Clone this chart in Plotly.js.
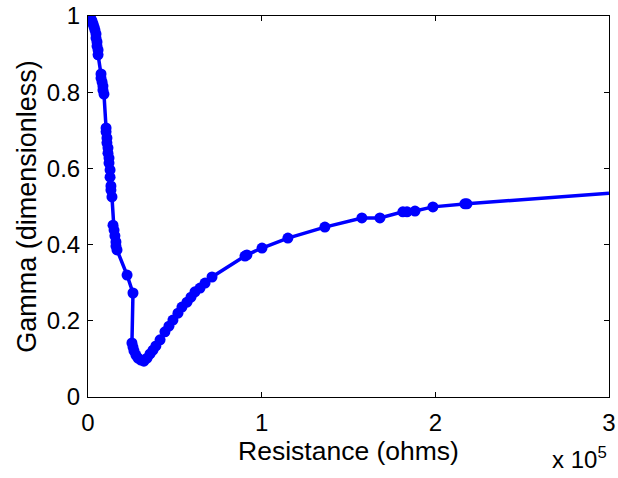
<!DOCTYPE html>
<html>
<head>
<meta charset="utf-8">
<script src="https://cdn.plot.ly/plotly-3.0.1.min.js"></script>
<style>html,body{margin:0;padding:0;background:#fff;}#chart{width:618px;height:478px;}</style>
</head>
<body>
<div id="chart"></div>
<script>
// Measured points (resistance in ohms, gamma dimensionless)
const resistance = [600,1200,1700,2300,2900,3500,4000,4600,4600,5200,5200,5800,5800,
  7500,7500,8100,8600,8600,9200,
  10400,10400,10900,10900,11500,11500,12100,12100,12700,12700,13200,13200,13800,
  14400,15000,15500,16100,16100,16700,
  22500,25900,25300,25900,26500,27600,28800,30500,32200,34000,35700,37400,39100,41500,
  44300,46600,48900,51800,54100,57000,59300,61600,64500,67400,71400,
  90400,91500,100200,115100,136400,157700,168100,181300,183700,188300,198600,217000,218200];
const gamma = [1.000,0.997,0.992,0.987,0.979,0.971,0.963,0.953,0.942,0.932,0.921,0.911,0.898,
  0.848,0.837,0.827,0.816,0.806,0.795,
  0.706,0.696,0.680,0.667,0.654,0.640,0.627,0.614,0.596,0.577,0.554,0.543,0.525,
  0.451,0.438,0.423,0.407,0.396,0.386,
  0.320,0.273,0.142,0.131,0.121,0.110,0.102,0.097,0.094,0.102,0.113,0.123,0.134,0.150,
  0.171,0.186,0.202,0.220,0.236,0.249,0.262,0.276,0.286,0.299,0.315,
  0.370,0.373,0.391,0.417,0.446,0.470,0.470,0.486,0.486,0.488,0.499,0.507,0.507];
// Line continues past the last measured point to the edge of the axes
const tailResistance = [218200, 300000];
const tailGamma = [0.507, 0.535];

const xTickVals = [0, 100000, 200000, 300000];
const xTickText = ['0', '1', '2', '3'];
const yTickVals = [0, 0.2, 0.4, 0.6, 0.8, 1];
const yTickText = ['0', '0.2', '0.4', '0.6', '0.8', '1'];

const blue = '#0000ff';
const fam = 'Liberation Sans, Arial, sans-serif';
const tickFont = {family: fam, size: 24, color: '#000'};
const xTitleFont = {family: fam, size: 26.5, color: '#000'};
const yTitleFont = {family: fam, size: 27, color: '#000'};
const expFont = {family: fam, size: 24, color: '#000'};

const traces = [
  {x: tailResistance, y: tailGamma, mode: 'lines', line: {color: blue, width: 3.5}, hoverinfo: 'skip'},
  {x: resistance, y: gamma, mode: 'lines+markers', line: {color: blue, width: 3.5},
   marker: {color: blue, size: 11, line: {width: 0}}}
];

const axisBase = {showline: true, linecolor: '#000', linewidth: 1, mirror: 'ticks',
  ticks: 'inside', ticklen: 5, tickcolor: '#000', showgrid: false, zeroline: false,
  tickfont: tickFont, tickmode: 'array', automargin: false};

const layout = {
  width: 618, height: 478,
  margin: {l: 88, r: 9, t: 16, b: 81},
  paper_bgcolor: '#fff', plot_bgcolor: '#fff',
  showlegend: false, font: tickFont,
  xaxis: Object.assign({}, axisBase, {range: [0, 300000], tickvals: xTickVals, ticktext: xTickText,
    ticklabelstandoff: 4,
    title: {text: 'Resistance (ohms)', font: xTitleFont, standoff: 0}}),
  yaxis: Object.assign({}, axisBase, {range: [0, 1], tickvals: yTickVals, ticktext: yTickText,
    ticklabelstandoff: 2,
    title: {text: 'Gamma (dimensionless)', font: yTitleFont, standoff: 2}}),
  annotations: [{xref: 'paper', yref: 'paper', x: 1.0, y: -0.16, xanchor: 'right', yanchor: 'middle',
    text: 'x 10<sup>5</sup>', showarrow: false, font: expFont}]
};

Plotly.newPlot('chart', traces, layout, {displayModeBar: false, staticPlot: true});
</script>
</body>
</html>
